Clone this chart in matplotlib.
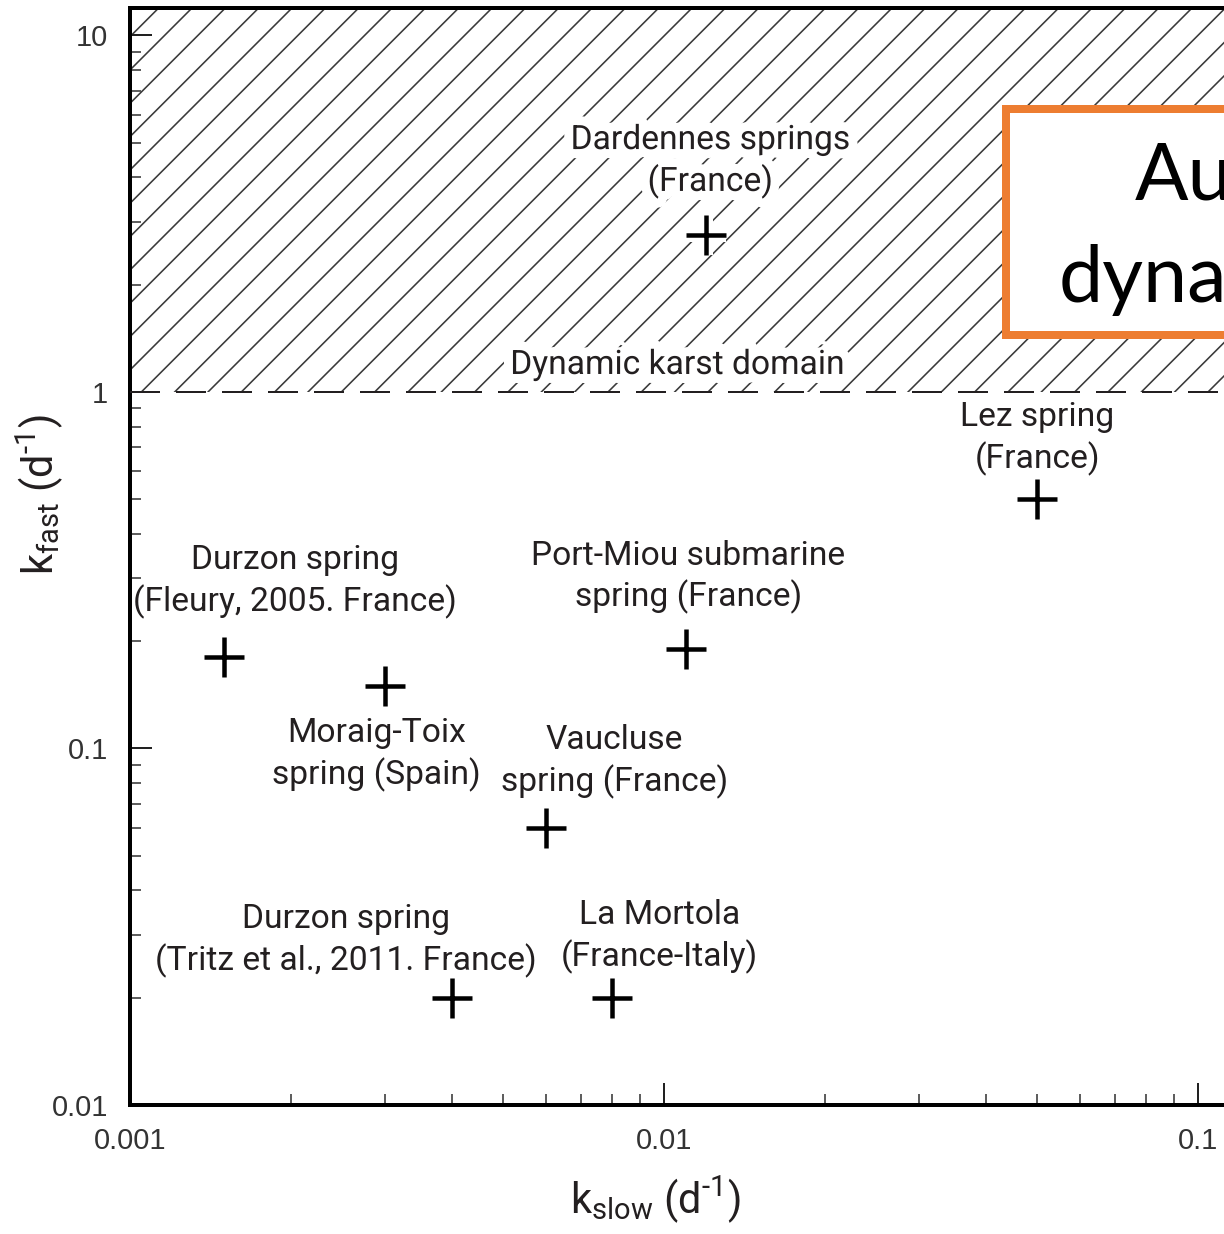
import matplotlib
matplotlib.use("Agg")
import matplotlib.pyplot as plt
import matplotlib.patheffects as pe
from matplotlib.patches import Rectangle
from matplotlib.ticker import FixedLocator, FixedFormatter, NullFormatter

# spring data: k_slow, k_fast (d-1)
springs = ["Dardennes springs\n(France)",
           "Lez spring\n(France)",
           "Durzon spring\n(Fleury, 2005. France)",
           "Port-Miou submarine\nspring (France)",
           "Moraig-Toix\nspring (Spain)",
           "Vaucluse\nspring (France)",
           "Durzon spring\n(Tritz et al., 2011. France)",
           "La Mortola\n(France-Italy)"]
k_slow = [0.012, 0.05, 0.0015, 0.011, 0.003, 0.006, 0.004, 0.008]
k_fast = [2.75, 0.5, 0.18, 0.19, 0.15, 0.06, 0.02, 0.02]

# label offsets from each point, in pixels (right, up)
label_dx = [4, 0, 71, 2, -8, 69, -106, 47]
label_dy = [74, 61, 76, 72, -69, 66, 57, 61]

domain_limit = 1.0
domain_label = "Dynamic karst domain"

x_ticks = [0.001, 0.01, 0.1, 1]
x_ticklabels = ["0.001", "0.01", "0.1", "1"]
y_ticks = [0.01, 0.1, 1, 10]
y_ticklabels = ["0.01", "0.1", "1", "10"]

DPI = 200
px = 72.0 / DPI   # points per pixel

plt.rcParams['hatch.linewidth'] = 1.6 * px
plt.rcParams['lines.scale_dashes'] = False
plt.rcParams['mathtext.fontset'] = 'custom'
plt.rcParams['mathtext.rm'] = 'Roboto'

txt_col = '#231f20'
lab_font = 'Roboto'

fig = plt.figure(figsize=(1224 / DPI, 1234 / DPI), dpi=DPI)
ax = fig.add_axes([130 / 1224, (1234 - 1105) / 1234, 1602 / 1224, 1097 / 1234])
ax.set_xscale('log')
ax.set_yscale('log')
ax.set_xlim(0.001, 1)
ax.set_ylim(0.01, 11.94)

# hatched dynamic domain
ax.axhspan(domain_limit, 100, facecolor='none', edgecolor='#3a3a3a',
           hatch='//', linewidth=0, zorder=1)
ax.axhline(domain_limit, color=txt_col, lw=2 * px, dashes=(30 * px, 16 * px), zorder=4)

halo = [pe.withStroke(linewidth=18 * px, foreground='white')]

ax.plot(k_slow, k_fast, linestyle='none', marker='+', markersize=40 * px,
        markeredgewidth=4.5 * px, color='black', zorder=5,
        path_effects=[pe.withStroke(linewidth=14 * px, foreground='white')])

for i, name in enumerate(springs):
    t = ax.annotate(name, (k_slow[i], k_fast[i]),
                    xytext=(label_dx[i] * px, label_dy[i] * px),
                    textcoords='offset points', ha='center', va='center',
                    fontsize=12.1, family=lab_font, color=txt_col,
                    linespacing=1.3, zorder=6)
    if k_fast[i] > domain_limit:
        t.set_path_effects(halo)

ax.annotate(domain_label, (0.0106, domain_limit), xytext=(0, 27 * px),
            textcoords='offset points', ha='center', va='center',
            fontsize=12.1, family=lab_font, color=txt_col, zorder=3,
            path_effects=halo)

# axes styling
for s in ['left', 'bottom', 'top', 'right']:
    ax.spines[s].set_linewidth(4 * px)
    ax.spines[s].set_color('black')

ax.xaxis.set_major_locator(FixedLocator(x_ticks))
ax.xaxis.set_major_formatter(FixedFormatter(x_ticklabels))
ax.yaxis.set_major_locator(FixedLocator(y_ticks))
ax.yaxis.set_major_formatter(FixedFormatter(y_ticklabels))
ax.xaxis.set_minor_formatter(NullFormatter())
ax.yaxis.set_minor_formatter(NullFormatter())

ax.tick_params(which='major', direction='in', length=22 * px, width=2 * px,
               color='#222222', labelsize=10.5, labelcolor='#333333', pad=8)
ax.tick_params(which='minor', direction='in', length=11 * px, width=1.7 * px,
               color='#444444')
ax.tick_params(top=False, right=False, which='both')
for lab in ax.get_xticklabels() + ax.get_yticklabels():
    lab.set_family('Liberation Sans')

ax.set_xlabel(r'k$_{\mathregular{slow}}$ (d$^{\mathregular{\text{-}1}}$)', fontsize=15,
              family=lab_font, color=txt_col, va='center')
ax.xaxis.set_label_coords((655 - 130) / 1602, (1105 - 1200) / 1097)
ax.set_ylabel(r'k$_{\mathregular{fast}}$ (d$^{\mathregular{\text{-}1}}$)', fontsize=15,
              family=lab_font, color=txt_col, va='center')
ax.yaxis.set_label_coords((40 - 130) / 1602, (1105 - 495) / 1097)

# orange call-out box (cropped at the right edge)
box = Rectangle((1006 / 1224, (1234 - 335) / 1234), 0.5, 226 / 1234,
                transform=fig.transFigure, facecolor='white',
                edgecolor='#ed7d31', linewidth=8 * px, zorder=7)
fig.add_artist(box)
fig.text(1135 / 1224, (1234 - 200) / 1234, "Au", fontsize=28.5, family='Lato',
         color='black', va='baseline', ha='left', zorder=8)
fig.text(1059 / 1224, (1234 - 302) / 1234, "dyna", fontsize=28.5, family='Lato',
         color='black', va='baseline', ha='left', zorder=8)

fig.savefig('out.png', dpi=DPI)
